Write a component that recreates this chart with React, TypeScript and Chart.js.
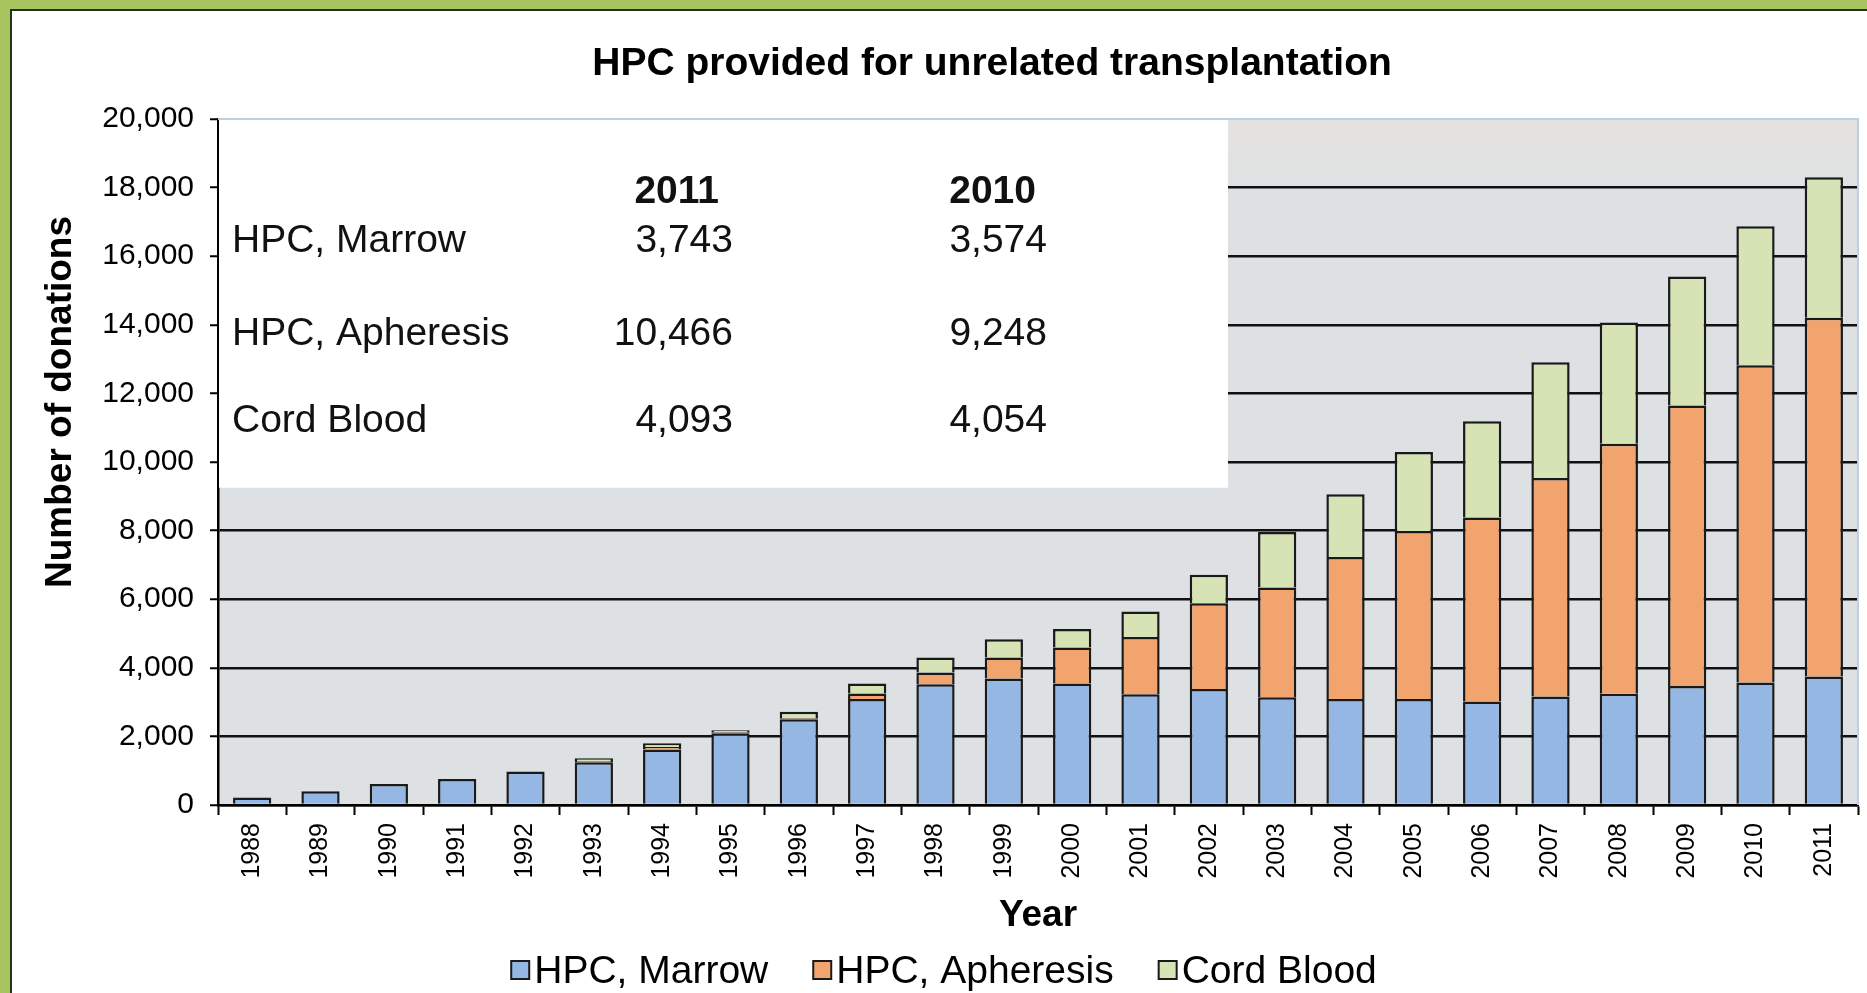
import React, { useEffect, useRef } from 'react';
import { Chart, registerables } from 'chart.js';

Chart.register(...registerables);

// ---------- data ----------
const years = ['1988', '1989', '1990', '1991', '1992', '1993', '1994', '1995', '1996', '1997', '1998', '1999',
  '2000', '2001', '2002', '2003', '2004', '2005', '2006', '2007', '2008', '2009', '2010', '2011'];
const marrow = [220, 400, 610, 760, 980, 1250, 1620, 2090, 2500, 3090, 3520, 3690,
  3540, 3230, 3380, 3140, 3090, 3090, 3020, 3160, 3240, 3470, 3574, 3743];
const apheresis = [null, null, null, null, null, 30, 70, 30, 30, 160, 340, 610,
  1050, 1670, 2500, 3200, 4140, 4900, 5360, 6370, 7290, 8180, 9248, 10466];
const cordBlood = [null, null, null, null, null, 80, 110, 60, 190, 290, 440, 530,
  540, 740, 830, 1620, 1830, 2300, 2810, 3380, 3540, 3760, 4054, 4093];
const seriesNames = ['HPC, Marrow', 'HPC, Apheresis', 'Cord Blood'];
const yTicks = [0, 2000, 4000, 6000, 8000, 10000, 12000, 14000, 16000, 18000, 20000];
const tableYears = ['2011', '2010'];
const chartTitle = 'HPC provided for unrelated transplantation';
const yTitle = 'Number of donations';
const xTitle = 'Year';

// ---------- styles ----------
const FONT = "'Liberation Sans', Arial, Helvetica, sans-serif";
const COLORS = ['#95b7e3', '#f2a46e', '#d5e3b5'];
const BORDER = '#1a1a1a';
const PLOT_BG = '#dee1e4';
const CANVAS_W = 1855;
const CANVAS_H = 982;

const fmt = (v: number) => Number(v).toLocaleString('en-US');

const decor = {
  id: 'decor',
  beforeDraw(chart: any) {
    const { ctx, chartArea: a } = chart;
    ctx.save();
    const g = ctx.createLinearGradient(0, a.top, 0, a.bottom);
    g.addColorStop(0, '#e4e2e0');
    g.addColorStop(0.12, PLOT_BG);
    g.addColorStop(1, PLOT_BG);
    ctx.fillStyle = g;
    ctx.fillRect(a.left, a.top, a.right - a.left, a.bottom - a.top);
    ctx.restore();
  },
  beforeDatasetsDraw(chart: any) {
    const { ctx, chartArea: a, scales } = chart;
    const xs = scales.x;
    const ys = scales.y;
    const cat = (a.right - a.left) / years.length;
    const boxRight = xs.getPixelForValue(14) + cat * 0.28;
    const boxBottom = ys.getPixelForValue(9250);
    ctx.save();
    ctx.fillStyle = '#ffffff';
    ctx.fillRect(a.left + 1, a.top, boxRight - a.left - 1, boxBottom - a.top);

    // table text
    ctx.fillStyle = '#111';
    ctx.textBaseline = 'alphabetic';
    ctx.font = `bold 39px ${FONT}`;
    ctx.textAlign = 'right';
    const headerRight = [707, 1024];
    const numRight = [721, 1035];
    tableYears.forEach((t, i) => ctx.fillText(t, headerRight[i], 192));
    const rowBase = [241, 334, 421];
    const series = [marrow, apheresis, cordBlood];
    ctx.font = `39px ${FONT}`;
    seriesNames.forEach((name, r) => {
      ctx.textAlign = 'left';
      ctx.fillText(name, 220, rowBase[r]);
      ctx.textAlign = 'right';
      tableYears.forEach((t, i) => {
        const idx = years.indexOf(t);
        ctx.fillText(fmt(series[r][idx] as number), numRight[i], rowBase[r]);
      });
    });
    ctx.restore();
  },
  afterDraw(chart: any) {
    const { ctx, chartArea: a } = chart;
    ctx.save();
    // plot-area top/right border
    ctx.strokeStyle = '#bccfe4';
    ctx.lineWidth = 2;
    ctx.beginPath();
    ctx.moveTo(a.left, a.top);
    ctx.lineTo(a.right, a.top);
    ctx.lineTo(a.right, a.bottom);
    ctx.stroke();

    // title
    ctx.fillStyle = '#000';
    ctx.font = `bold 39px ${FONT}`;
    ctx.textAlign = 'center';
    ctx.textBaseline = 'alphabetic';
    ctx.fillText(chartTitle, 980, 64);

    // y title
    ctx.save();
    ctx.translate(59, 391);
    ctx.rotate(-Math.PI / 2);
    ctx.font = `bold 37px ${FONT}`;
    ctx.textAlign = 'center';
    ctx.textBaseline = 'alphabetic';
    ctx.fillText(yTitle, 0, 0);
    ctx.restore();

    // legend
    const ds = chart.data.datasets;
    ctx.font = `39px ${FONT}`;
    const box = 18;
    const gapBT = 5;
    const gapItem = 45;
    const widths = ds.map((d: any) => box + gapBT + ctx.measureText(d.label).width);
    const total = widths.reduce((s: number, w: number) => s + w, 0) + gapItem * (ds.length - 1);
    let x = 932 - total / 2;
    const cy = 959;
    ds.forEach((d: any, i: number) => {
      ctx.fillStyle = d.backgroundColor;
      ctx.fillRect(x, cy - box / 2, box, box);
      ctx.strokeStyle = BORDER;
      ctx.lineWidth = 2;
      ctx.strokeRect(x, cy - box / 2, box, box);
      ctx.fillStyle = '#000';
      ctx.textAlign = 'left';
      ctx.textBaseline = 'alphabetic';
      ctx.fillText(d.label, x + box + gapBT, 972);
      x += widths[i] + gapItem;
    });
    ctx.restore();
  },
};

function ChartCanvas() {
  const ref = useRef<HTMLCanvasElement | null>(null);
  useEffect(() => {
    if (!ref.current) return;
    const series = [marrow, apheresis, cordBlood];
    const chart = new Chart(ref.current, {
      type: 'bar',
      data: {
        labels: years,
        datasets: series.map((data, i) => ({
          label: seriesNames[i],
          data: data as any,
          backgroundColor: COLORS[i],
          borderColor: BORDER,
          borderWidth: 2.5,
          barPercentage: 0.56,
          categoryPercentage: 1.0,
        })),
      },
      options: {
        responsive: false,
        animation: false,
        devicePixelRatio: 1,
        layout: { padding: { top: 108, right: 9, bottom: 0, left: 0 } },
        plugins: {
          legend: { display: false },
          title: { display: false },
          tooltip: { enabled: false },
        },
        scales: {
          x: {
            stacked: true,
            grid: {
              display: true,
              drawOnChartArea: false,
              drawTicks: true,
              tickLength: 10,
              tickColor: '#000',
              tickWidth: 2,
              offset: true,
            },
            border: { display: true, color: '#000', width: 2.5 },
            ticks: {
              color: '#000',
              font: { family: FONT, size: 25 },
              maxRotation: 90,
              minRotation: 90,
              padding: 8,
              autoSkip: false,
            },
            title: {
              display: true,
              text: xTitle,
              color: '#000',
              font: { family: FONT, size: 37, weight: 'bold' },
              padding: { top: 0, bottom: 55 },
            },
            afterFit: (s: any) => { s.height = 188; },
          },
          y: {
            stacked: true,
            min: yTicks[0],
            max: yTicks[yTicks.length - 1],
            afterBuildTicks: (s: any) => { s.ticks = yTicks.map((v) => ({ value: v })); },
            ticks: {
              color: '#000',
              font: { family: FONT, size: 30 },
              padding: 16,
              callback: (v: any) => fmt(v),
            },
            grid: {
              color: (c: any) => (c.tick && c.tick.value === yTicks[yTicks.length - 1] ? 'rgba(0,0,0,0)' : '#111'),
              lineWidth: 2.5,
              drawTicks: true,
              tickLength: 8,
              tickColor: '#000',
              tickWidth: 2,
            },
            border: { display: true, color: '#000', width: 2.5 },
            afterFit: (s: any) => { s.width = 206; },
          },
        },
      } as any,
      plugins: [decor],
    });
    return () => chart.destroy();
  }, []);
  return <canvas ref={ref} width={CANVAS_W} height={CANVAS_H} style={{ display: 'block', width: CANVAS_W, height: CANVAS_H }} />;
}

export default function App() {
  return (
    <div style={{ position: 'absolute', left: 0, top: 0, width: 1867, height: 993, overflow: 'hidden', background: '#a8c45e' }}>
      <div style={{ position: 'absolute', left: 10, top: 9, width: 1857, height: 984, boxSizing: 'border-box', borderLeft: '2px solid #27301a', borderTop: '2px solid #27301a', background: '#ffffff' }}>
        <ChartCanvas />
      </div>
    </div>
  );
}
